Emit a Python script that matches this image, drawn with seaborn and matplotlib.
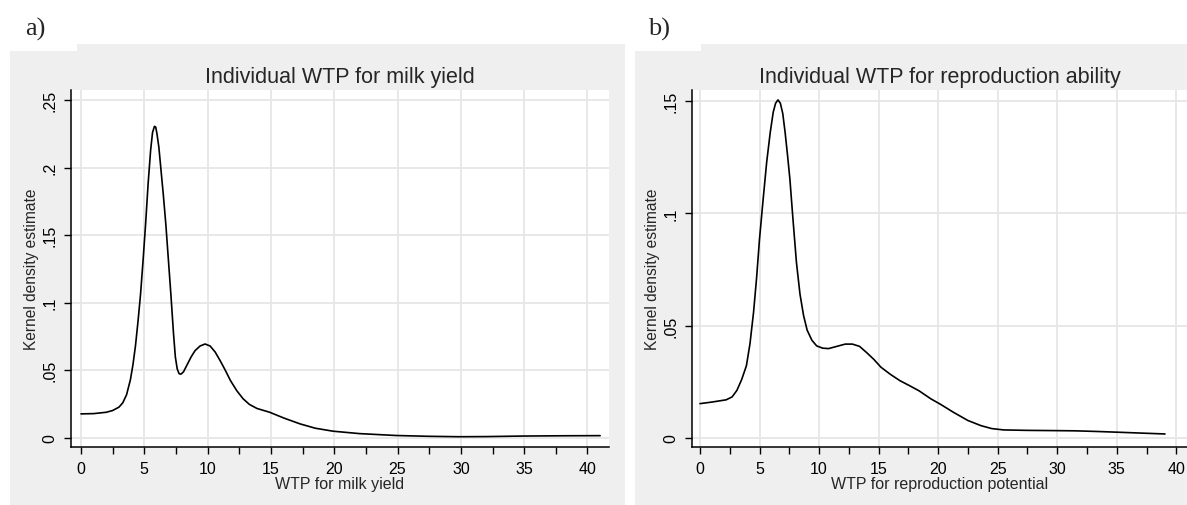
import pandas as pd
import matplotlib
matplotlib.use('Agg')
import matplotlib.pyplot as plt
import seaborn as sns
from matplotlib.patches import Rectangle
from matplotlib.ticker import MultipleLocator

sns.set_style('white')
plt.rcParams['font.family'] = ['Liberation Sans', 'DejaVu Sans']

# panel a: kernel density of WTP for milk yield
milk_x = [0, 1, 2, 2.5, 3, 3.3, 3.6, 3.9, 4.1, 4.3, 4.5, 4.7, 4.9, 5.1, 5.3,
          5.5, 5.65, 5.8, 5.9, 6.0, 6.15, 6.3, 6.5, 6.7, 6.9, 7.1, 7.3, 7.45,
          7.6, 7.75, 7.9, 8.1, 8.4, 8.7, 9.0, 9.4, 9.8, 10.2, 10.6, 11.0, 11.4,
          11.8, 12.3, 12.8, 13.3, 13.9, 14.9, 16, 17.3, 18.5, 19.9, 22, 24.9,
          27.5, 29.9, 32, 34.9, 38, 41]
milk_y = [0.0178, 0.0180, 0.0190, 0.0203, 0.0228, 0.026, 0.032, 0.043, 0.054,
          0.068, 0.086, 0.106, 0.131, 0.158, 0.188, 0.213, 0.226, 0.2305,
          0.2300, 0.225, 0.215, 0.200, 0.180, 0.158, 0.132, 0.106, 0.078,
          0.060, 0.051, 0.0475, 0.0472, 0.049, 0.0545, 0.060, 0.0645, 0.068,
          0.0695, 0.068, 0.0635, 0.057, 0.050, 0.0425, 0.035, 0.029, 0.0248,
          0.0218, 0.019, 0.0148, 0.0104, 0.0072, 0.0050, 0.0032, 0.0018,
          0.0012, 0.0009, 0.0010, 0.0014, 0.0016, 0.0017]

# panel b: kernel density of WTP for reproduction ability
repro_x = [0, 1, 2.2, 2.7, 3.1, 3.5, 3.9, 4.2, 4.5, 4.75, 5.0, 5.3, 5.6, 5.9,
           6.15, 6.35, 6.55, 6.75, 6.95, 7.15, 7.35, 7.55, 7.8, 8.1, 8.4, 8.7,
           9.0, 9.4, 9.8, 10.3, 10.8, 11.5, 12.2, 12.8, 13.4, 14.0, 14.6, 15.2,
           16.0, 16.8, 17.6, 18.4, 19.4, 20.2, 21.3, 22.5, 23.6, 24.5, 25.5,
           27.5, 29.7, 31.5, 33.4, 35.5, 37, 39.05]
repro_y = [0.0153, 0.0160, 0.0170, 0.0183, 0.0212, 0.026, 0.0322, 0.042,
           0.056, 0.071, 0.0886, 0.106, 0.1227, 0.136, 0.145, 0.149, 0.1505,
           0.149, 0.1445, 0.136, 0.126, 0.1153, 0.098, 0.0782, 0.064, 0.0545,
           0.048, 0.0435, 0.041, 0.0400, 0.0398, 0.0408, 0.0418, 0.0418,
           0.0408, 0.038, 0.035, 0.0315, 0.0283, 0.0255, 0.0233, 0.021, 0.0174,
           0.015, 0.0114, 0.0078, 0.0055, 0.0042, 0.0036, 0.0034, 0.0033,
           0.0032, 0.0029, 0.0025, 0.0022, 0.0018]

milk_yticks = [0, 0.05, 0.1, 0.15, 0.2, 0.25]
milk_ylabels = ['0', '.05', '.1', '.15', '.2', '.25']
repro_yticks = [0, 0.05, 0.1, 0.15]
repro_ylabels = ['0', '.05', '.1', '.15']

W, H = 1187, 506
fig = plt.figure(figsize=(W / 100, H / 100), dpi=100)
fig.patch.set_facecolor('white')
grey = '#efefef'


def grey_box(x0, y0, x1, y1):
    # pixel box, origin top-left
    fig.add_artist(Rectangle((x0 / W, 1 - y1 / H), (x1 - x0) / W, (y1 - y0) / H,
                             transform=fig.transFigure, facecolor=grey,
                             edgecolor='none', zorder=0))


grey_box(10, 52, 625, 506)
grey_box(77, 45, 625, 52)
grey_box(635, 52, 1187, 506)
grey_box(701, 45, 1187, 52)

fig.text(25 / W, 1 - 29 / H, 'a)', family=['Liberation Serif'], fontsize=19,
         va='center', ha='left')
fig.text(648 / W, 1 - 29 / H, 'b)', family=['Liberation Serif'], fontsize=19,
         va='center', ha='left')


def draw_panel(rect, x, y, title, xlabel, yticks, ylabels, xlim, ylim):
    ax = fig.add_axes(rect)
    ax.set_facecolor('white')
    df = pd.DataFrame({'x': x, 'y': y})
    sns.lineplot(data=df, x='x', y='y', ax=ax, color='black', linewidth=1.2,
                 sort=False, estimator=None)
    ax.set_xlim(*xlim)
    ax.set_ylim(*ylim)
    ax.xaxis.set_major_locator(MultipleLocator(5))
    ax.xaxis.set_minor_locator(MultipleLocator(2.5))
    ax.set_yticks(yticks)
    ax.set_yticklabels(ylabels, rotation=90, va='center')
    ax.grid(True, which='major', color='#e6e6e6', linewidth=1.3)
    ax.set_axisbelow(True)
    for s in ['top', 'right']:
        ax.spines[s].set_visible(False)
    for s in ['left', 'bottom']:
        ax.spines[s].set_color('black')
        ax.spines[s].set_linewidth(1.1)
    ax.tick_params(axis='both', which='both', bottom=True, left=True,
                   direction='out', length=5, width=1, color='black',
                   labelsize=11.5, labelcolor='black')
    ax.tick_params(axis='y', pad=5)
    ax.tick_params(axis='x', pad=5)
    ax.set_title(title, fontsize=15.5, pad=6)
    ax.set_xlabel(xlabel, fontsize=11.5, labelpad=0)
    ax.set_ylabel('Kernel density estimate', fontsize=11.2, labelpad=2)
    return ax


draw_panel([71 / W, 1 - 448 / H, (609 - 71) / W, 357 / H], milk_x, milk_y,
           'Individual WTP for milk yield', 'WTP for milk yield',
           milk_yticks, milk_ylabels, (-0.79, 41.7), (-0.0067, 0.2574))
draw_panel([692 / W, 1 - 448 / H, (1187 - 692) / W, 357 / H], repro_x, repro_y,
           'Individual WTP for reproduction ability',
           'WTP for reproduction potential',
           repro_yticks, repro_ylabels, (-0.67, 40.9), (-0.004, 0.1549))

fig.savefig('out.png', dpi=100, facecolor='white')
